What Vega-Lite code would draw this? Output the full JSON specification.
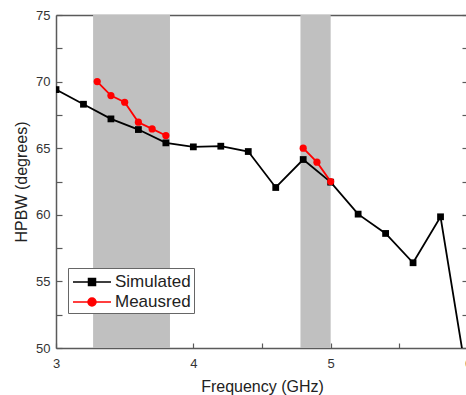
{
  "$schema": "https://vega.github.io/schema/vega-lite/v6.json",
  "width": 412,
  "height": 333,
  "autosize": {"type": "none"},
  "padding": {"left": 56, "top": 15, "right": 0, "bottom": 47},
  "config": {
    "view": {"stroke": null},
    "font": "Liberation Sans",
    "axis": {
      "domainColor": "#5a5a5a",
      "domainWidth": 1.5,
      "tickColor": "#5a5a5a",
      "tickWidth": 1.2,
      "labelFont": "Liberation Sans",
      "labelFontSize": 13,
      "labelColor": "#333333",
      "titleFont": "Liberation Sans",
      "titleFontSize": 16,
      "titleFontWeight": "normal",
      "titleColor": "#222222",
      "grid": false,
      "zindex": 1
    },
    "legend": {
      "orient": "none",
      "legendX": 12,
      "legendY": 253,
      "fillColor": "#ffffff",
      "strokeColor": "#666666",
      "padding": 3,
      "symbolSize": 400,
      "symbolStrokeWidth": 1.5,
      "labelOffset": 22,
      "labelFontSize": 17,
      "labelFont": "Liberation Sans",
      "labelColor": "#222222",
      "rowPadding": 1
    }
  },
  "datasets": {
    "bands": [
      {"start": 3.27, "end": 3.83},
      {"start": 4.78, "end": 5.0}
    ],
    "hpbw": [
      {"series": "Simulated", "seg": "s", "freq": 3.0, "hpbw": 69.4},
      {"series": "Simulated", "seg": "s", "freq": 3.2, "hpbw": 68.3},
      {"series": "Simulated", "seg": "s", "freq": 3.4, "hpbw": 67.2},
      {"series": "Simulated", "seg": "s", "freq": 3.6, "hpbw": 66.4},
      {"series": "Simulated", "seg": "s", "freq": 3.8, "hpbw": 65.4},
      {"series": "Simulated", "seg": "s", "freq": 4.0, "hpbw": 65.1},
      {"series": "Simulated", "seg": "s", "freq": 4.2, "hpbw": 65.15},
      {"series": "Simulated", "seg": "s", "freq": 4.4, "hpbw": 64.75},
      {"series": "Simulated", "seg": "s", "freq": 4.6, "hpbw": 62.05},
      {"series": "Simulated", "seg": "s", "freq": 4.8, "hpbw": 64.15},
      {"series": "Simulated", "seg": "s", "freq": 5.0, "hpbw": 62.45},
      {"series": "Simulated", "seg": "s", "freq": 5.2, "hpbw": 60.05},
      {"series": "Simulated", "seg": "s", "freq": 5.4, "hpbw": 58.6},
      {"series": "Simulated", "seg": "s", "freq": 5.6, "hpbw": 56.4},
      {"series": "Simulated", "seg": "s", "freq": 5.8, "hpbw": 59.85},
      {"series": "Simulated", "seg": "s", "freq": 6.0, "hpbw": 47.2},
      {"series": "Meausred", "seg": "m1", "freq": 3.3, "hpbw": 70.0},
      {"series": "Meausred", "seg": "m1", "freq": 3.4, "hpbw": 68.95},
      {"series": "Meausred", "seg": "m1", "freq": 3.5, "hpbw": 68.45},
      {"series": "Meausred", "seg": "m1", "freq": 3.6, "hpbw": 66.95},
      {"series": "Meausred", "seg": "m1", "freq": 3.7, "hpbw": 66.45},
      {"series": "Meausred", "seg": "m1", "freq": 3.8, "hpbw": 65.95},
      {"series": "Meausred", "seg": "m2", "freq": 4.8, "hpbw": 65.0},
      {"series": "Meausred", "seg": "m2", "freq": 4.9, "hpbw": 63.95},
      {"series": "Meausred", "seg": "m2", "freq": 5.0, "hpbw": 62.5}
    ]
  },
  "resolve": {"axis": {"x": "independent", "y": "independent"}},
  "layer": [
    {
      "data": {"name": "bands"},
      "mark": {"type": "rect", "color": "#c0c0c0"},
      "encoding": {
        "x": {
          "field": "start",
          "type": "quantitative",
          "scale": {"domain": [3, 6], "nice": false, "zero": false},
          "axis": {
            "orient": "bottom",
            "title": "Frequency (GHz)",
            "values": [3, 3.5, 4, 4.5, 5, 5.5, 6],
            "labelExpr": "datum.value % 1 === 0 ? format(datum.value, 'd') : ''",
            "tickSize": -5,
            "labelPadding": 14,
            "titlePadding": 8,
            "labelFlush": false,
            "labelOverlap": false,
            "encode": {
              "ticks": {"update": {"y2": {"signal": "datum.value % 1 === 0 ? -5 : -3"}}}
            }
          }
        },
        "x2": {"field": "end"}
      }
    },
    {
      "data": {"name": "hpbw"},
      "mark": {"type": "line", "clip": true, "strokeWidth": 1.8},
      "encoding": {
        "x": {
          "field": "freq",
          "type": "quantitative",
          "scale": {"domain": [3, 6], "nice": false, "zero": false},
          "axis": {"orient": "top", "title": null, "labels": false, "ticks": false}
        },
        "y": {
          "field": "hpbw",
          "type": "quantitative",
          "scale": {"domain": [50, 75], "nice": false, "zero": false},
          "axis": {
            "orient": "left",
            "title": "HPBW (degrees)",
            "values": [50, 52.5, 55, 57.5, 60, 62.5, 65, 67.5, 70, 72.5, 75],
            "labelExpr": "datum.value % 5 === 0 ? datum.label : ''",
            "tickSize": -6,
            "labelPadding": 12,
            "titlePadding": 6,
            "labelFlush": false,
            "labelOverlap": false,
            "encode": {
              "ticks": {"update": {"x2": {"signal": "datum.value % 5 === 0 ? 6 : 3"}}}
            }
          }
        },
        "color": {
          "field": "series",
          "type": "nominal",
          "scale": {"domain": ["Simulated", "Meausred"], "range": ["#000000", "#ff0000"]},
          "legend": {
            "title": null,
            "symbolType": "M-0.9,0H2.9M0.65,-0.35H1.35V0.35H0.65Z",
            "encode": {
              "symbols": {
                "update": {
                  "shape": {"signal": "datum.value === 'Simulated' ? 'M-0.9,0H2.9M0.65,-0.35H1.35V0.35H0.65Z' : 'M-0.9,0H2.9M1.4,0A0.4,0.4 0 1,1 0.6,0A0.4,0.4 0 1,1 1.4,0Z'"},
                  "fill": {"signal": "datum.value === 'Simulated' ? '#000000' : '#ff0000'"},
                  "stroke": {"signal": "datum.value === 'Simulated' ? '#000000' : '#ff0000'"}
                }
              }
            }
          }
        },
        "detail": {"field": "seg"}
      }
    },
    {
      "data": {"name": "hpbw"},
      "transform": [{"filter": "datum.series === 'Simulated'"}],
      "mark": {"type": "point", "shape": "square", "filled": true, "clip": true, "opacity": 1, "size": 46},
      "encoding": {
        "x": {
          "field": "freq",
          "type": "quantitative",
          "scale": {"domain": [3, 6], "nice": false, "zero": false},
          "axis": null
        },
        "y": {
          "field": "hpbw",
          "type": "quantitative",
          "scale": {"domain": [50, 75], "nice": false, "zero": false},
          "axis": {
            "orient": "right",
            "title": null,
            "labels": false,
            "values": [50, 52.5, 55, 57.5, 60, 62.5, 65, 67.5, 70, 72.5, 75],
            "tickSize": -6,
            "encode": {
              "ticks": {"update": {"x2": {"signal": "datum.value % 5 === 0 ? -6 : -3"}}}
            }
          }
        },
        "color": {
          "field": "series",
          "type": "nominal",
          "scale": {"domain": ["Simulated", "Meausred"], "range": ["#000000", "#ff0000"]},
          "legend": {
            "title": null,
            "symbolType": "M-0.9,0H2.9M0.65,-0.35H1.35V0.35H0.65Z",
            "encode": {
              "symbols": {
                "update": {
                  "shape": {"signal": "datum.value === 'Simulated' ? 'M-0.9,0H2.9M0.65,-0.35H1.35V0.35H0.65Z' : 'M-0.9,0H2.9M1.4,0A0.4,0.4 0 1,1 0.6,0A0.4,0.4 0 1,1 1.4,0Z'"},
                  "fill": {"signal": "datum.value === 'Simulated' ? '#000000' : '#ff0000'"},
                  "stroke": {"signal": "datum.value === 'Simulated' ? '#000000' : '#ff0000'"}
                }
              }
            }
          }
        }
      }
    },
    {
      "data": {"name": "hpbw"},
      "transform": [{"filter": "datum.series === 'Meausred'"}],
      "mark": {"type": "point", "shape": "circle", "filled": true, "clip": true, "opacity": 1, "size": 52},
      "encoding": {
        "x": {
          "field": "freq",
          "type": "quantitative",
          "scale": {"domain": [3, 6], "nice": false, "zero": false},
          "axis": null
        },
        "y": {
          "field": "hpbw",
          "type": "quantitative",
          "scale": {"domain": [50, 75], "nice": false, "zero": false},
          "axis": null
        },
        "color": {
          "field": "series",
          "type": "nominal",
          "scale": {"domain": ["Simulated", "Meausred"], "range": ["#000000", "#ff0000"]},
          "legend": {
            "title": null,
            "symbolType": "M-0.9,0H2.9M0.65,-0.35H1.35V0.35H0.65Z",
            "encode": {
              "symbols": {
                "update": {
                  "shape": {"signal": "datum.value === 'Simulated' ? 'M-0.9,0H2.9M0.65,-0.35H1.35V0.35H0.65Z' : 'M-0.9,0H2.9M1.4,0A0.4,0.4 0 1,1 0.6,0A0.4,0.4 0 1,1 1.4,0Z'"},
                  "fill": {"signal": "datum.value === 'Simulated' ? '#000000' : '#ff0000'"},
                  "stroke": {"signal": "datum.value === 'Simulated' ? '#000000' : '#ff0000'"}
                }
              }
            }
          }
        }
      }
    }
  ]
}
